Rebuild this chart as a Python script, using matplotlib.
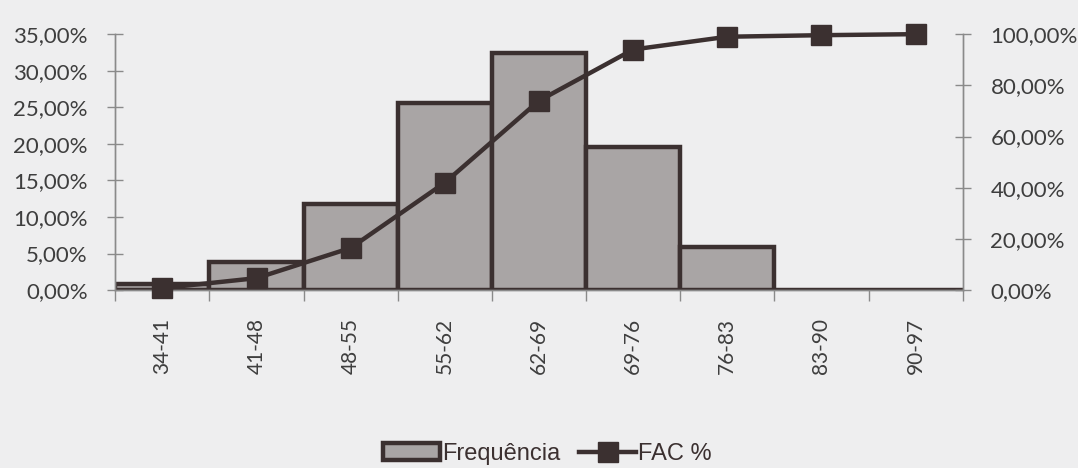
import numpy as np
import matplotlib.pyplot as plt
from matplotlib.ticker import FuncFormatter, FixedLocator

# classes and values
classes = ['34-41', '41-48', '48-55', '55-62', '62-69', '69-76', '76-83', '83-90', '90-97']
freq = [0.8, 3.9, 11.8, 25.6, 32.4, 19.6, 5.9, 0.0, 0.0]       # Frequência (%)
fac = [0.8, 4.7, 16.5, 42.0, 74.0, 94.0, 99.0, 99.6, 100.0]    # FAC % (cumulative)

dark = '#3b3030'
fill = '#a9a5a5'
axcol = '#8a8a8a'
txtcol = '#3e3e3e'
bg = '#eeeeef'

fig = plt.figure(figsize=(10.78, 4.68), dpi=100, facecolor=bg)
ax = fig.add_axes([0.107, 0.380, 0.786, 0.547])
ax.set_facecolor(bg)
ax2 = ax.twinx()

x = np.arange(len(classes))
bars = ax.bar(x, freq, width=1.0, color=fill, edgecolor=dark, linewidth=3.2,
              label='Frequência', zorder=2)
line, = ax2.plot(x, fac, color=dark, linewidth=3.2, marker='s', markersize=15,
                 markerfacecolor=dark, markeredgecolor=dark, label='FAC %',
                 zorder=3, clip_on=False)

ax.set_xlim(-0.5, len(classes) - 0.5)
ax.set_ylim(0, 35)
ax2.set_ylim(0, 100)
ax.set_yticks(np.arange(0, 36, 5))
ax2.set_yticks(np.arange(0, 101, 20))

pct = FuncFormatter(lambda v, p: f'{v:.2f}%'.replace('.', ','))
ax.yaxis.set_major_formatter(pct)
ax2.yaxis.set_major_formatter(pct)

# ticks between categories, labels at centres
ax.xaxis.set_major_locator(FixedLocator(np.arange(-0.5, len(classes), 1.0)))
ax.xaxis.set_minor_locator(FixedLocator(x))
ax.set_xticklabels([], minor=False)
ax.set_xticklabels(classes, minor=True, rotation=90)
ax.tick_params(axis='x', which='major', length=8, width=1, color=axcol, direction='out')
ax.tick_params(axis='x', which='minor', length=0, pad=20, labelsize=15,
               labelcolor=txtcol, labelfontfamily='Lato')
ax.tick_params(axis='y', length=12, width=1, color=axcol, direction='inout', pad=14,
               labelsize=16, labelcolor=txtcol, labelfontfamily='Lato')
ax2.tick_params(axis='y', length=12, width=1, color=axcol, direction='inout', pad=14,
                labelsize=16, labelcolor=txtcol, labelfontfamily='Lato')

for a in (ax, ax2):
    a.spines['top'].set_visible(False)
    for s in ('left', 'right', 'bottom'):
        a.spines[s].set_color(axcol)
        a.spines[s].set_linewidth(1)

fig.legend(handles=[bars, line], labels=['Frequência', 'FAC %'], loc='center',
           bbox_to_anchor=(0.508, 0.03), ncol=2, frameon=False,
           prop={'family': 'Liberation Sans', 'size': 17}, handlelength=2.4,
           handletextpad=0.1, columnspacing=0.8, labelcolor=dark)

fig.savefig('out.png', dpi=100, facecolor=bg)
